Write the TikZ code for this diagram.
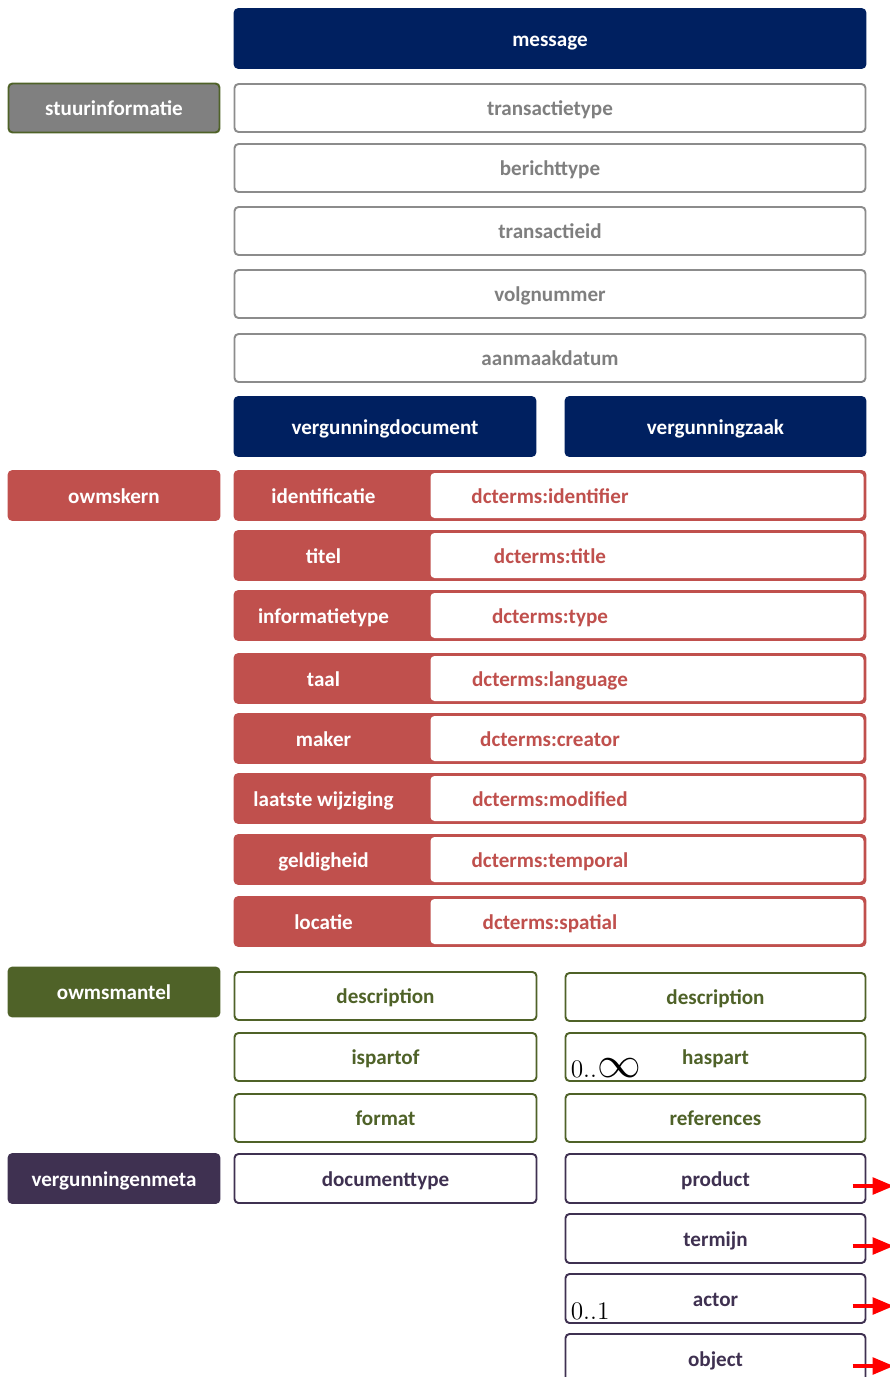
\documentclass[tikz,border=0pt]{standalone}
\usepackage{fontspec}
\setmainfont{Carlito}
\usetikzlibrary{positioning}
\usetikzlibrary{arrows}
\definecolor{navy}{HTML}{002060}
\definecolor{kernred}{HTML}{C0504D}
\definecolor{mantelgreen}{HTML}{4F6228}
\definecolor{metapurple}{HTML}{3F3151}
\definecolor{stuurgray}{HTML}{7F7F7F}
\tikzstyle{Box} = [rectangle,rounded corners=0.08cm,line width=1.1pt,outer sep=0pt,inner sep=0pt,text height=0.9em,text depth=0em,font=\fontsize{12}{14}\selectfont\bfseries]
\tikzstyle{Head} = [Box,fill=navy,draw=navy,text=white,minimum height=1.18cm]
\tikzstyle{Side} = [Box,text=white,minimum width=4.22cm,minimum height=0.98cm]
\tikzstyle{Stuur} = [Box,fill=white,draw=stuurgray!90,text=stuurgray,minimum width=12.62cm,minimum height=0.96cm]
\tikzstyle{Kern} = [Box,fill=kernred,draw=kernred,text=kernred,minimum width=12.62cm,minimum height=0.98cm,
  path picture={\fill[white] ([xshift=3.92cm,yshift=-0.04cm]path picture bounding box.north west) rectangle ([xshift=-0.04cm,yshift=0.04cm]path picture bounding box.south east);}]
\tikzstyle{Key} = [font=\fontsize{12}{14}\selectfont\bfseries,text=white,inner sep=0pt,text height=0.9em,text depth=0em]
\tikzstyle{Mantel} = [Box,fill=white,draw=mantelgreen,text=mantelgreen,minimum height=0.96cm]
\tikzstyle{Meta} = [Box,fill=white,draw=metapurple,text=metapurple,minimum height=0.98cm]
\tikzstyle{Card} = [inner sep=0pt,anchor=base west,font=\fontsize{14.4}{16}\selectfont]
\tikzstyle{Rel} = [->,draw=red,line width=1.8pt]
\tikzset{>={triangle 45}}

\begin{document}
\begin{tikzpicture}
  \useasboundingbox (0,0) rectangle (17.78,-27.54);

  \node [Head,minimum width=12.62cm] (msg) at (11.0,-0.77) {message};

  \node [Stuur,below=0.32cm of msg] (t1) {transactietype};
  \node [Stuur,below=0.24cm of t1] (t2) {berichttype};
  \node [Stuur,below=0.3cm of t2] (t3) {transactieid};
  \node [Stuur,below=0.3cm of t3] (t4) {volgnummer};
  \node [Stuur,below=0.32cm of t4] (t5) {aanmaakdatum};
  \node [Side,fill=gray,draw=mantelgreen,left=0.3cm of t1] (s1) {stuurinformatie};

  \node [Head,minimum width=6.02cm,below=0.3cm of t5.south west,anchor=north west] (vd) {vergunningdocument};
  \node [Head,minimum width=6.0cm,below=0.3cm of t5.south east,anchor=north east] (vz) {vergunningzaak};

  % owms kern
  \node [Kern,below=0.3cm of vd.south west,anchor=north west] (k1) {dcterms:identifier};
  \node [Kern,below=0.22cm of k1] (k2) {dcterms:title};
  \node [Kern,below=0.22cm of k2] (k3) {dcterms:type};
  \node [Kern,below=0.28cm of k3] (k4) {dcterms:language};
  \node [Kern,below=0.22cm of k4] (k5) {dcterms:creator};
  \node [Kern,below=0.22cm of k5] (k6) {dcterms:modified};
  \node [Kern,below=0.24cm of k6] (k7) {dcterms:temporal};
  \node [Kern,below=0.26cm of k7] (k8) {dcterms:spatial};
  \node [Key] (k1k) at ([xshift=1.78cm]k1.west) {identificatie};
  \node [Key] (k2k) at ([xshift=1.78cm]k2.west) {titel};
  \node [Key] (k3k) at ([xshift=1.78cm]k3.west) {informatietype};
  \node [Key] (k4k) at ([xshift=1.78cm]k4.west) {taal};
  \node [Key] (k5k) at ([xshift=1.78cm]k5.west) {maker};
  \node [Key] (k6k) at ([xshift=1.78cm]k6.west) {laatste wijziging};
  \node [Key] (k7k) at ([xshift=1.78cm]k7.west) {geldigheid};
  \node [Key] (k8k) at ([xshift=1.78cm]k8.west) {locatie};
  \node [Side,fill=kernred,draw=kernred,left=0.3cm of k1] (s2) {owmskern};

  % owms mantel
  \node [Mantel,minimum width=6.04cm,below=0.52cm of k8.south west,anchor=north west] (ml1) {description};
  \node [Mantel,minimum width=6.04cm,below=0.26cm of ml1] (ml2) {ispartof};
  \node [Mantel,minimum width=6.04cm,below=0.26cm of ml2] (ml3) {format};
  \node [Mantel,minimum width=6.0cm,below=0.54cm of k8.south east,anchor=north east] (mr1) {description};
  \node [Mantel,minimum width=6.0cm,below=0.24cm of mr1] (mr2) {haspart};
  \node [Mantel,minimum width=6.0cm,below=0.26cm of mr2] (mr3) {references};
  \node [Side,fill=mantelgreen,draw=mantelgreen,left=0.3cm of ml1,yshift=0.08cm] (s3) {owmsmantel};
  \node [Card] (c1) at ([xshift=0.1cm,yshift=0.08cm]mr2.south west) {$0..${\fontsize{24.88}{26}\selectfont$\infty$}};

  % vergunningen meta
  \node [Meta,minimum width=6.04cm,below=0.24cm of ml3] (v1) {documenttype};
  \node [Meta,minimum width=6.0cm,below=0.24cm of mr3] (p1) {product};
  \node [Meta,minimum width=6.0cm,below=0.22cm of p1] (p2) {termijn};
  \node [Meta,minimum width=6.0cm,below=0.22cm of p2] (p3) {actor};
  \node [Meta,minimum width=6.0cm,below=0.22cm of p3] (p4) {object};
  \node [Side,fill=metapurple,draw=metapurple,left=0.3cm of v1] (s4) {vergunningenmeta};
  \node [Card] (c2) at ([xshift=0.1cm,yshift=0.08cm]p3.south west) {$0..1$};

  \coordinate (e1) at ([xshift=0.56cm,yshift=-0.15cm]p1.east);
  \coordinate (e2) at ([xshift=0.56cm,yshift=-0.15cm]p2.east);
  \coordinate (e3) at ([xshift=0.56cm,yshift=-0.15cm]p3.east);
  \coordinate (e4) at ([xshift=0.56cm,yshift=-0.15cm]p4.east);
  \draw [Rel] ([xshift=-0.26cm,yshift=-0.15cm]p1.east) -- (e1);
  \draw [Rel] ([xshift=-0.26cm,yshift=-0.15cm]p2.east) -- (e2);
  \draw [Rel] ([xshift=-0.26cm,yshift=-0.15cm]p3.east) -- (e3);
  \draw [Rel] ([xshift=-0.26cm,yshift=-0.15cm]p4.east) -- (e4);
\end{tikzpicture}
\end{document}
